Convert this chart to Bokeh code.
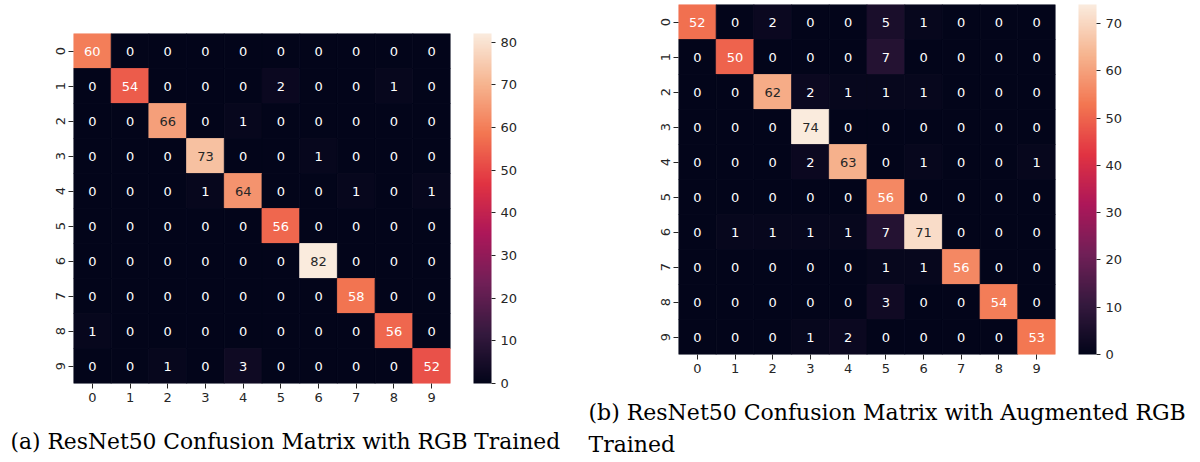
import numpy as np
from bokeh.plotting import figure
from bokeh.models import (ColumnDataSource, LinearColorMapper, ColorBar, FixedTicker,
                          Range1d, Title)
from bokeh.layouts import row
from bokeh.embed import file_html
from bokeh.resources import INLINE
from bokeh.core.properties import value

# ---------------- data ----------------
classes = ["0", "1", "2", "3", "4", "5", "6", "7", "8", "9"]

cm_rgb = [
    [60, 0, 0, 0, 0, 0, 0, 0, 0, 0],
    [0, 54, 0, 0, 0, 2, 0, 0, 1, 0],
    [0, 0, 66, 0, 1, 0, 0, 0, 0, 0],
    [0, 0, 0, 73, 0, 0, 1, 0, 0, 0],
    [0, 0, 0, 1, 64, 0, 0, 1, 0, 1],
    [0, 0, 0, 0, 0, 56, 0, 0, 0, 0],
    [0, 0, 0, 0, 0, 0, 82, 0, 0, 0],
    [0, 0, 0, 0, 0, 0, 0, 58, 0, 0],
    [1, 0, 0, 0, 0, 0, 0, 0, 56, 0],
    [0, 0, 1, 0, 3, 0, 0, 0, 0, 52],
]

cm_aug = [
    [52, 0, 2, 0, 0, 5, 1, 0, 0, 0],
    [0, 50, 0, 0, 0, 7, 0, 0, 0, 0],
    [0, 0, 62, 2, 1, 1, 1, 0, 0, 0],
    [0, 0, 0, 74, 0, 0, 0, 0, 0, 0],
    [0, 0, 0, 2, 63, 0, 1, 0, 0, 1],
    [0, 0, 0, 0, 0, 56, 0, 0, 0, 0],
    [0, 1, 1, 1, 1, 7, 71, 0, 0, 0],
    [0, 0, 0, 0, 0, 1, 1, 56, 0, 0],
    [0, 0, 0, 0, 0, 3, 0, 0, 54, 0],
    [0, 0, 0, 1, 2, 0, 0, 0, 0, 53],
]

cbar_ticks_rgb = [0, 10, 20, 30, 40, 50, 60, 70, 80]
cbar_ticks_aug = [0, 10, 20, 30, 40, 50, 60, 70]

caption_a = "(a) ResNet50 Confusion Matrix with RGB Trained"
caption_b = "(b) ResNet50 Confusion Matrix with Augmented RGB\nTrained"

# ---------------- rocket colormap (seaborn) ----------------
_anchors = [
    (0.0, "#03051a"), (1 / 7, "#35193e"), (2 / 7, "#701f57"), (3 / 7, "#ad1759"),
    (4 / 7, "#e13342"), (5 / 7, "#f37651"), (6 / 7, "#f6b48f"), (1.0, "#faebdd"),
]


def _hex2rgb(h):
    return [int(h[i:i + 2], 16) for i in (1, 3, 5)]


_pos = np.array([a[0] for a in _anchors])
_rgb = np.array([_hex2rgb(a[1]) for a in _anchors], dtype=float)
_t = np.linspace(0, 1, 256)
_lut = np.stack([np.interp(_t, _pos, _rgb[:, k]) for k in range(3)], axis=1)
rocket = ["#%02x%02x%02x" % tuple(int(round(c)) for c in rgb) for rgb in _lut]


def _lum(rgb):
    c = np.array(rgb) / 255.0
    c = np.where(c <= 0.03928, c / 12.92, ((c + 0.055) / 1.055) ** 2.4)
    return 0.2126 * c[0] + 0.7152 * c[1] + 0.0722 * c[2]


TICK_COL = "#262626"
SANS = "DejaVu Sans"
SERIF = "DejaVu Serif"


def heatmap(cm, ticks, border_left, border_top, border_right, border_bottom):
    n = len(classes)
    vmax = max(max(r) for r in cm)
    xs, ys, vals, txt, tcol = [], [], [], [], []
    for i in range(n):
        for j in range(n):
            v = cm[i][j]
            xs.append(j + 0.5)
            ys.append(i + 0.5)
            vals.append(v)
            txt.append(str(v))
            idx = int(round(v / vmax * 255))
            tcol.append(TICK_COL if _lum(_lut[idx]) > 0.408 else "white")
    src = ColumnDataSource(dict(x=xs, y=ys, v=vals, t=txt, c=tcol))
    mapper = LinearColorMapper(palette=rocket, low=0, high=vmax)

    p = figure(frame_width=377, frame_height=350,
               x_range=Range1d(0, n), y_range=Range1d(n, 0),
               min_border_left=border_left, min_border_top=border_top,
               min_border_right=border_right, min_border_bottom=border_bottom,
               output_backend="svg", toolbar_location=None, tools="")
    p.frame_align = False
    p.rect(x="x", y="y", width=1, height=1, source=src,
           fill_color={"field": "v", "transform": mapper},
           line_color={"field": "v", "transform": mapper}, line_width=0.8)
    p.text(x="x", y="y", text="t", source=src, text_color="c",
           text_align="center", text_baseline="middle",
           text_font=value(SANS), text_font_size="13px")

    p.grid.visible = False
    p.outline_line_color = None
    for ax in (p.xaxis[0], p.yaxis[0]):
        ax.ticker = FixedTicker(ticks=[k + 0.5 for k in range(n)])
        ax.major_label_overrides = {k + 0.5: classes[k] for k in range(n)}
        ax.axis_line_color = None
        ax.major_tick_in = 0
        ax.major_tick_out = 5
        ax.major_tick_line_color = TICK_COL
        ax.minor_tick_line_color = None
        ax.major_label_text_font = SANS
        ax.major_label_text_font_size = "13px"
        ax.major_label_text_color = TICK_COL
        ax.major_label_standoff = 4
    p.yaxis[0].major_label_orientation = "vertical"

    cb = ColorBar(color_mapper=mapper, width=18, height=350,
                  ticker=FixedTicker(ticks=ticks),
                  bar_line_color=None, border_line_color=None,
                  major_tick_in=0, major_tick_out=4,
                  major_tick_line_color=TICK_COL,
                  minor_tick_line_color=None,
                  label_standoff=5,
                  major_label_text_font=SANS,
                  major_label_text_font_size="13px",
                  major_label_text_color=TICK_COL,
                  padding=0, margin=0, location=(23, 0))
    p.add_layout(cb, "right")
    return p


# left panel (figure origin at page (0, 0))
p1 = heatmap(cm_rgb, cbar_ticks_rgb, 73, 33, 138, 79)
p1.add_layout(Title(text=caption_a, align="left", offset=-63,
                    text_font=SERIF, text_font_size="21.8px",
                    text_font_style="normal", text_color="black",
                    standoff=45), "below")

# right panel (figure origin at page (588, 0))
p2 = heatmap(cm_aug, cbar_ticks_aug, 90, 4, 145, 108)
p2.add_layout(Title(text=caption_b, align="left", offset=-90,
                    text_font=SERIF, text_font_size="22px",
                    text_font_style="normal", text_color="black",
                    text_line_height=1.27, standoff=44), "below")

layout = row(p1, p2, spacing=0)
open("out.html", "w").write(file_html(layout, INLINE))
